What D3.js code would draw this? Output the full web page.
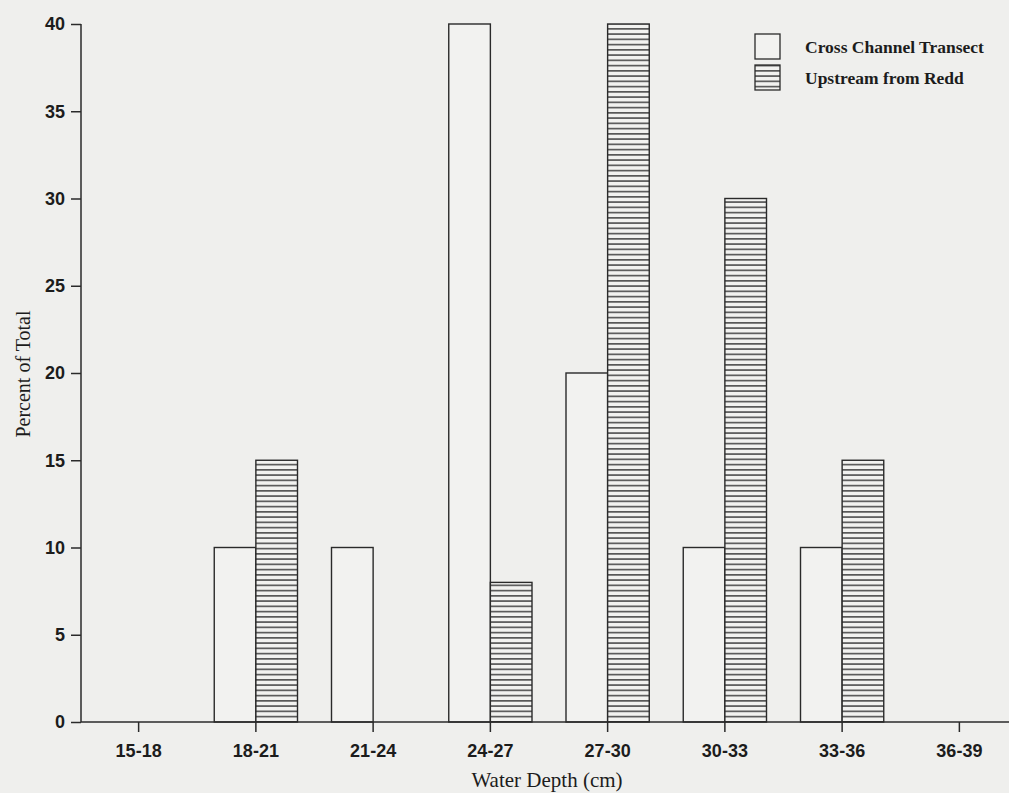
<!DOCTYPE html>
<html>
<head>
<meta charset="utf-8">
<script src="https://cdn.jsdelivr.net/npm/d3@7"></script>
<style>
  html, body { margin: 0; padding: 0; background: #efefed; }
  svg { display: block; }
</style>
</head>
<body>
<svg id="chart" width="1009" height="793"></svg>
<script>
const categories = ["15-18", "18-21", "21-24", "24-27", "27-30", "30-33", "33-36", "36-39"];
const crossChannel = [0, 10, 10, 40, 20, 10, 10, 0];
const upstreamRedd = [0, 15, 0, 8, 40, 30, 15, 0];
const seriesNames = ["Cross Channel Transect", "Upstream from Redd"];
const yTicks = [0, 5, 10, 15, 20, 25, 30, 35, 40];

const W = 1009, H = 793;
const svg = d3.select("#chart");
const ink = "#2a2a2a";
const txt = "#1c1c1c";

svg.append("rect").attr("width", W).attr("height", H).attr("fill", "#efefed");

const defs = svg.append("defs");
const pat = defs.append("pattern")
  .attr("id", "hatch")
  .attr("patternUnits", "userSpaceOnUse")
  .attr("width", 10).attr("height", 5.25);
pat.append("rect").attr("width", 10).attr("height", 5.25).attr("fill", "#f2f2f0");
pat.append("line").attr("x1", 0).attr("x2", 10).attr("y1", 2.6).attr("y2", 2.6)
  .attr("stroke", ink).attr("stroke-width", 1.3);

const x = d3.scaleBand().domain(categories).range([80, 1018]).padding(0);
const y = d3.scaleLinear().domain([0, 40]).range([722, 24]);
const bw = x.bandwidth() * 0.355;

// Y axis
const yAxis = svg.append("g").attr("transform", "translate(81,0)")
  .call(d3.axisLeft(y).tickValues(yTicks).tickSize(10).tickPadding(6).tickFormat(d3.format("d")));
yAxis.select(".domain").attr("stroke", ink).attr("stroke-width", 1.5).attr("d", `M0,${y(40)}V${y(0)}`);
yAxis.selectAll(".tick line").attr("stroke", ink).attr("stroke-width", 1.5);
yAxis.selectAll(".tick text")
  .attr("font-family", "'Liberation Sans', Arial, sans-serif")
  .attr("font-weight", "bold").attr("font-size", 18).attr("fill", txt);

// Bars
const g = svg.append("g");
categories.forEach((c, i) => {
  const cx = x(c) + x.bandwidth() / 2;
  if (crossChannel[i] > 0) {
    g.append("rect")
      .attr("x", cx - bw).attr("width", bw)
      .attr("y", y(crossChannel[i])).attr("height", y(0) - y(crossChannel[i]))
      .attr("fill", "#f2f2f0").attr("stroke", ink).attr("stroke-width", 1.4);
  }
  if (upstreamRedd[i] > 0) {
    g.append("rect")
      .attr("x", cx).attr("width", bw)
      .attr("y", y(upstreamRedd[i])).attr("height", y(0) - y(upstreamRedd[i]))
      .attr("fill", "url(#hatch)").attr("stroke", ink).attr("stroke-width", 1.4);
  }
});

// X axis
const xAxis = svg.append("g").attr("transform", `translate(0,${y(0)})`)
  .call(d3.axisBottom(x).tickSize(10).tickPadding(12));
xAxis.select(".domain").attr("stroke", ink).attr("stroke-width", 1.5).attr("d", `M81,0H${W}`);
xAxis.selectAll(".tick line").attr("stroke", ink).attr("stroke-width", 1.5);
xAxis.selectAll(".tick text")
  .attr("font-family", "'Liberation Sans', Arial, sans-serif")
  .attr("font-weight", "bold").attr("font-size", 18).attr("fill", txt);

// Axis titles
svg.append("text")
  .attr("x", 547).attr("y", 787)
  .attr("text-anchor", "middle")
  .attr("font-family", "'Liberation Serif', 'Times New Roman', serif")
  .attr("font-size", 21).attr("fill", txt)
  .text("Water Depth (cm)");

svg.append("text")
  .attr("transform", "translate(30,374) rotate(-90)")
  .attr("text-anchor", "middle")
  .attr("font-family", "'Liberation Serif', 'Times New Roman', serif")
  .attr("font-size", 20).attr("fill", txt)
  .text("Percent of Total");

// Legend
const legend = svg.append("g");
const fills = ["#f2f2f0", "url(#hatch)"];
seriesNames.forEach((name, i) => {
  const ly = 34 + i * 31;
  legend.append("rect").attr("x", 755).attr("y", ly).attr("width", 25).attr("height", 25)
    .attr("fill", fills[i]).attr("stroke", ink).attr("stroke-width", 1.3);
  legend.append("text").attr("x", 805).attr("y", ly + 19)
    .attr("font-family", "'Liberation Serif', 'Times New Roman', serif")
    .attr("font-weight", "bold").attr("font-size", 17.5).attr("fill", txt)
    .text(name);
});
</script>
</body>
</html>
